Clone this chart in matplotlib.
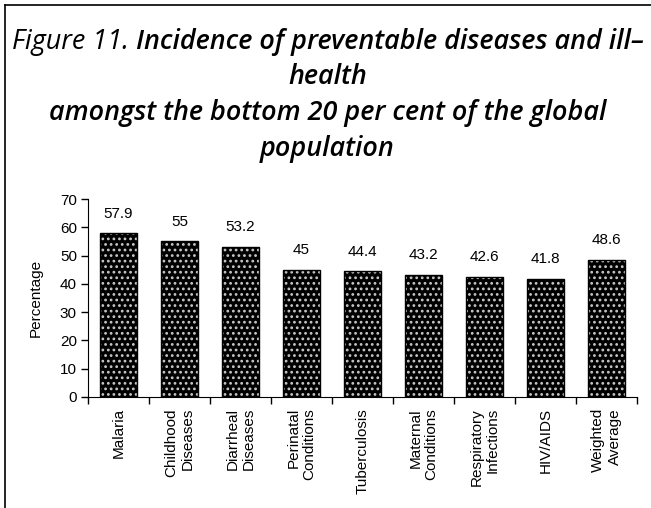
import matplotlib
matplotlib.use('Agg')
import matplotlib.pyplot as plt
from matplotlib.lines import Line2D

categories = ['Malaria', 'Childhood\nDiseases', 'Diarrheal\nDiseases',
              'Perinatal\nConditions', 'Tuberculosis', 'Maternal\nConditions',
              'Respiratory\nInfections', 'HIV/AIDS', 'Weighted\nAverage']
values = [57.9, 55, 53.2, 45, 44.4, 43.2, 42.6, 41.8, 48.6]
value_labels = ['57.9', '55', '53.2', '45', '44.4', '43.2', '42.6', '41.8', '48.6']

title_lead = 'Figure 11. '
title_rest = 'Incidence of preventable diseases and ill\u2013'
title_lines = ['health', 'amongst the bottom 20 per cent of the global', 'population']

plt.rcParams['font.family'] = ['Liberation Sans', 'DejaVu Sans']
plt.rcParams['hatch.linewidth'] = 1.2

fig = plt.figure(figsize=(6.51, 5.08), dpi=100)
W, H = 651, 508

# frame lines (left and top only)
fig.add_artist(Line2D([5 / W, 5 / W], [0, 1 - 5 / H], color='black', lw=1.2))
fig.add_artist(Line2D([5 / W, 1], [1 - 5 / H, 1 - 5 / H], color='black', lw=1.2))

# title: first line sized to span about 634 px
tfam = ['Open Sans', 'DejaVu Sans']
tw = 600
renderer = fig.canvas.get_renderer()
t1 = fig.text(0, 0, title_lead, style='italic', family=tfam)
t2 = fig.text(0, 0, title_rest, style='italic', weight=tw, family=tfam)
tfs = 19
for _ in range(4):
    t1.set_fontsize(tfs)
    t2.set_fontsize(tfs)
    w1 = t1.get_window_extent(renderer).width
    w2 = t2.get_window_extent(renderer).width
    tfs = tfs * 634 / (w1 + w2)
t1.set_fontsize(tfs)
t2.set_fontsize(tfs)
w1 = t1.get_window_extent(renderer).width
w2 = t2.get_window_extent(renderer).width
x0 = (W + 4 - (w1 + w2)) / 2
y1 = 1 - 42 / H
t1.set_position((x0 / W, y1))
t1.set_va('center')
t2.set_position(((x0 + w1) / W, y1))
t2.set_va('center')
for i, line in enumerate(title_lines):
    fig.text((W + 4) / 2 / W, 1 - (77 + 36 * i) / H, line, fontsize=tfs, style='italic',
             weight=tw, family=tfam, ha='center', va='center')

ax = fig.add_axes([88 / W, 1 - 397 / H, (637 - 88) / W, (397 - 199) / H])
x = range(len(categories))
ax.bar(x, values, width=0.6, color='black', edgecolor='#c8c8c8', hatch='...', linewidth=0)
ax.bar(x, values, width=0.6, fill=False, edgecolor='black', linewidth=1)
for xi, v, lab in zip(x, values, value_labels):
    ax.annotate(lab, (xi, v), xytext=(0, 9), textcoords='offset points',
                ha='center', va='bottom', fontsize=11)

ax.set_xlim(-0.5, len(categories) - 0.5)
ax.set_ylim(0, 70)
ax.set_yticks(range(0, 71, 10))
ax.set_xticks([i - 0.5 for i in range(len(categories) + 1)])
ax.set_xticklabels([])
ax.set_xticks(list(x), minor=True)
ax.set_xticklabels(categories, minor=True, rotation=90, ha='center', va='top',
                   multialignment='right', fontsize=11)
ax.tick_params(axis='x', which='major', length=5, width=1)
ax.tick_params(axis='x', which='minor', length=0, pad=8)
ax.tick_params(axis='y', length=5, width=1, labelsize=11, pad=3)
ax.spines['top'].set_visible(False)
ax.spines['right'].set_visible(False)
ax.set_ylabel('Percentage', fontsize=11, labelpad=12)

fig.savefig('out.png', dpi=100)
